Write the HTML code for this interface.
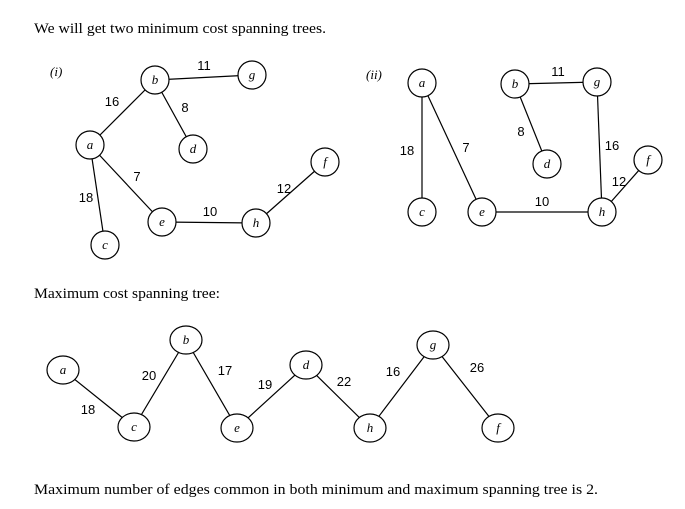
<!DOCTYPE html>
<html><head><style>body{margin:0;background:#fff}svg{display:block}</style></head><body>
<svg width="685" height="509" xmlns="http://www.w3.org/2000/svg" font-family="Liberation Sans, sans-serif">
<rect width="685" height="509" fill="#fff"/>
<g font-family="Liberation Serif, serif" font-size="14.5" fill="#000">
<text x="34" y="33" textLength="292" lengthAdjust="spacingAndGlyphs">We will get two minimum cost spanning trees.</text>
<text x="34" y="298" textLength="186" lengthAdjust="spacingAndGlyphs">Maximum cost spanning tree:</text>
<text x="34" y="494" textLength="564" lengthAdjust="spacingAndGlyphs">Maximum number of edges common in both minimum and maximum spanning tree is 2.</text>
<text x="50" y="76" font-size="13" font-style="italic">(i)</text>
<text x="366" y="79" font-size="13" font-style="italic">(ii)</text>
</g>
<g stroke="#000" stroke-width="1.2">
<line x1="155" y1="80" x2="252" y2="75"/><line x1="155" y1="80" x2="90" y2="145"/><line x1="155" y1="80" x2="193" y2="149"/>
<line x1="90" y1="145" x2="105" y2="245"/><line x1="90" y1="145" x2="162" y2="222"/><line x1="162" y1="222" x2="256" y2="223"/><line x1="256" y1="223" x2="325" y2="162"/>
<line x1="422" y1="83" x2="422" y2="212"/><line x1="422" y1="83" x2="482" y2="212"/><line x1="482" y1="212" x2="602" y2="212"/>
<line x1="515" y1="84" x2="597" y2="82"/><line x1="515" y1="84" x2="547" y2="164"/><line x1="597" y1="82" x2="602" y2="212"/><line x1="602" y1="212" x2="648" y2="160"/>
<polyline fill="none" points="63,370 134,427 186,340 237,428 306,365 370,428 433,345 498,428"/>
</g>
<g stroke="#000" stroke-width="1.2" fill="#fff">
<circle cx="155" cy="80" r="14"/><circle cx="252" cy="75" r="14"/><circle cx="90" cy="145" r="14"/><circle cx="193" cy="149" r="14"/>
<circle cx="325" cy="162" r="14"/><circle cx="162" cy="222" r="14"/><circle cx="256" cy="223" r="14"/><circle cx="105" cy="245" r="14"/>
<circle cx="422" cy="83" r="14"/><circle cx="515" cy="84" r="14"/><circle cx="597" cy="82" r="14"/><circle cx="547" cy="164" r="14"/>
<circle cx="648" cy="160" r="14"/><circle cx="422" cy="212" r="14"/><circle cx="482" cy="212" r="14"/><circle cx="602" cy="212" r="14"/>
<ellipse cx="63" cy="370" rx="16" ry="14"/><ellipse cx="134" cy="427" rx="16" ry="14"/><ellipse cx="186" cy="340" rx="16" ry="14"/><ellipse cx="237" cy="428" rx="16" ry="14"/>
<ellipse cx="306" cy="365" rx="16" ry="14"/><ellipse cx="370" cy="428" rx="16" ry="14"/><ellipse cx="433" cy="345" rx="16" ry="14"/><ellipse cx="498" cy="428" rx="16" ry="14"/>
</g>
<g font-family="Liberation Serif, serif" font-style="italic" font-size="13" text-anchor="middle" fill="#000">
<text x="155" y="84">b</text><text x="252" y="79">g</text><text x="90" y="149">a</text><text x="193" y="153">d</text>
<text x="325" y="166">f</text><text x="162" y="226">e</text><text x="256" y="227">h</text><text x="105" y="249">c</text>
<text x="422" y="87">a</text><text x="515" y="88">b</text><text x="597" y="86">g</text><text x="547" y="168">d</text>
<text x="648" y="164">f</text><text x="422" y="216">c</text><text x="482" y="216">e</text><text x="602" y="216">h</text>
<text x="63" y="374">a</text><text x="134" y="431">c</text><text x="186" y="344">b</text><text x="237" y="432">e</text>
<text x="306" y="369">d</text><text x="370" y="432">h</text><text x="433" y="349">g</text><text x="498" y="432">f</text>
</g>
<g font-size="13" text-anchor="middle" fill="#000">
<text x="204" y="70">11</text><text x="112" y="106">16</text><text x="185" y="112">8</text><text x="137" y="181">7</text>
<text x="86" y="202">18</text><text x="210" y="216">10</text><text x="284" y="193">12</text>
<text x="558" y="76">11</text><text x="521" y="136">8</text><text x="407" y="155">18</text><text x="466" y="152">7</text>
<text x="612" y="150">16</text><text x="619" y="186">12</text><text x="542" y="206">10</text>
<text x="88" y="414">18</text><text x="149" y="380">20</text><text x="225" y="375">17</text><text x="265" y="389">19</text>
<text x="344" y="386">22</text><text x="393" y="376">16</text><text x="477" y="372">26</text>
</g>
</svg>
</body></html>
